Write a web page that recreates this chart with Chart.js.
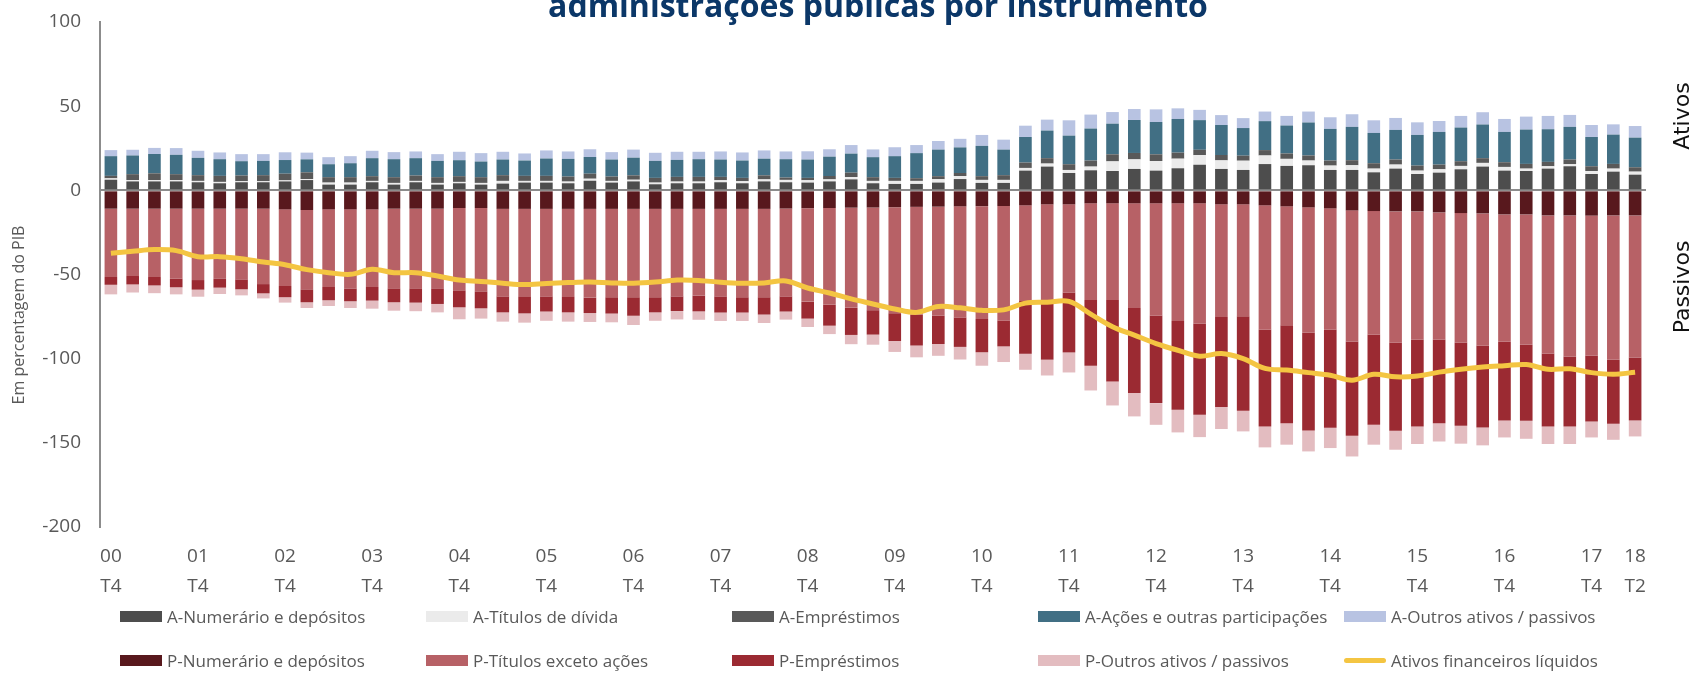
<!DOCTYPE html>
<html>
<head>
<meta charset="utf-8">
<script src="https://cdn.jsdelivr.net/npm/chart.js@4"></script>
<style>
  body { margin: 0; background: #fff; }
  #wrap { position: relative; width: 1696px; height: 673px; }
  #legend { position: absolute; left: 0; top: 0; font-family: "Open Sans", sans-serif; font-size: 17px; color: #595959; }
  .item { position: absolute; display: flex; align-items: center; height: 24px; white-space: nowrap; }
  .box { width: 42px; height: 11px; margin-right: 5px; }
  .lineBox { width: 42px; height: 5px; border-radius: 3px; margin-right: 5px; }
</style>
</head>
<body>
<div id="wrap">
  <canvas id="chart" width="1696" height="673"></canvas>
  <div id="legend"></div>
</div>
<script>
const quarters = [
    '00 T4',
    '01 T1', '01 T2', '01 T3', '01 T4', '02 T1', '02 T2', '02 T3', '02 T4',
    '03 T1', '03 T2', '03 T3', '03 T4', '04 T1', '04 T2', '04 T3', '04 T4',
    '05 T1', '05 T2', '05 T3', '05 T4', '06 T1', '06 T2', '06 T3', '06 T4',
    '07 T1', '07 T2', '07 T3', '07 T4', '08 T1', '08 T2', '08 T3', '08 T4',
    '09 T1', '09 T2', '09 T3', '09 T4', '10 T1', '10 T2', '10 T3', '10 T4',
    '11 T1', '11 T2', '11 T3', '11 T4', '12 T1', '12 T2', '12 T3', '12 T4',
    '13 T1', '13 T2', '13 T3', '13 T4', '14 T1', '14 T2', '14 T3', '14 T4',
    '15 T1', '15 T2', '15 T3', '15 T4', '16 T1', '16 T2', '16 T3', '16 T4',
    '17 T1', '17 T2', '17 T3', '17 T4', '18 T1', '18 T2'
];

// ativos (positivos)
const aNumerario = [6.3, 5.3, 5.3, 5.3, 4.8, 4.2, 4.8, 4.8, 5.3, 6.1, 3.4, 3.4, 4.8, 3.4, 4.8, 3.4, 4.2, 3.4,
    4.0, 4.6, 4.6, 4.2, 5.7, 4.6, 5.3, 3.6, 4.2, 4.2, 4.8, 4.2, 5.3, 4.8, 4.6, 5.3, 6.5, 4.2,
    3.8, 3.8, 4.6, 6.7, 4.4, 4.4, 11.7, 14.1, 10.3, 11.9, 11.5, 12.7, 11.7, 13.1, 15.2, 12.7, 12.1, 15.6,
    14.5, 14.9, 12.1, 12.1, 10.7, 12.9, 9.7, 10.5, 12.5, 14.1, 11.7, 11.5, 12.9, 14.3, 9.7, 11.1, 9.3];
const aTitulos = [0.8, 0.8, 0.8, 0.8, 0.8, 0.8, 0.6, 0.6, 0.6, 0.6, 1.2, 1.2, 0.8, 1.0, 0.8, 1.0, 0.8, 1.0,
    1.6, 1.0, 1.0, 1.0, 1.2, 1.0, 1.0, 1.0, 1.0, 1.0, 1.2, 1.2, 1.2, 1.4, 1.4, 1.2, 1.4, 1.4,
    1.8, 1.8, 2.0, 1.8, 1.8, 1.8, 1.6, 1.8, 1.8, 2.2, 5.7, 5.7, 5.7, 5.7, 5.7, 5.1, 5.5, 5.1,
    4.2, 2.8, 2.6, 2.8, 2.2, 2.4, 2.0, 2.0, 2.0, 2.2, 2.2, 1.4, 1.4, 1.2, 1.8, 1.8, 1.8];
const aEmprestimos = [1.5, 3.5, 4.0, 3.5, 3.4, 3.6, 3.4, 3.6, 4.0, 4.0, 3.2, 3.2, 2.8, 3.4, 3.2, 3.4, 3.4, 3.4,
    3.4, 3.0, 3.0, 3.0, 3.0, 2.6, 2.6, 2.8, 2.8, 2.8, 2.0, 2.0, 2.4, 1.4, 1.4, 2.0, 2.6, 2.2,
    1.8, 1.6, 1.8, 1.8, 2.2, 2.8, 3.2, 3.2, 3.4, 3.6, 4.2, 3.8, 4.0, 3.6, 3.2, 3.2, 3.0, 3.2,
    3.2, 3.0, 3.0, 3.0, 3.2, 3.0, 3.0, 2.8, 2.8, 2.8, 2.8, 2.8, 2.6, 2.8, 2.8, 2.8, 2.6];
const aAcoes = [11.7, 11.1, 11.5, 11.5, 10.3, 9.9, 8.5, 8.5, 8.1, 7.7, 7.7, 8.3, 10.7, 10.7, 10.3, 9.7, 9.5, 9.3,
    9.3, 9.1, 10.3, 10.5, 9.9, 10.1, 10.5, 10.1, 10.1, 10.5, 10.3, 10.3, 9.9, 10.9, 10.9, 11.5, 11.3, 11.9,
    12.9, 14.9, 15.8, 15.2, 18.0, 15.2, 15.2, 16.4, 17.0, 19.0, 18.2, 19.6, 19.2, 20.0, 17.6, 17.8, 16.4, 17.2,
    16.6, 19.6, 18.8, 19.8, 18.0, 17.6, 18.2, 19.4, 20.0, 20.0, 18.0, 20.4, 19.4, 19.4, 17.4, 17.4, 17.6];
const aOutros = [3.6, 3.4, 3.6, 4.0, 4.2, 4.0, 4.2, 4.0, 4.6, 4.0, 4.2, 4.2, 4.4, 4.2, 4.0, 4.0, 5.0, 5.0,
    4.6, 4.2, 4.8, 4.4, 4.6, 4.4, 4.8, 4.8, 4.8, 4.4, 4.8, 4.8, 4.9, 4.6, 4.9, 4.4, 5.1, 4.6,
    5.3, 4.8, 5.1, 5.1, 6.5, 5.9, 6.7, 6.5, 9.1, 8.3, 6.9, 6.5, 7.5, 6.3, 6.1, 5.9, 5.9, 5.7,
    5.7, 6.5, 6.9, 7.5, 7.5, 7.1, 7.5, 6.5, 6.9, 7.3, 7.7, 7.7, 7.9, 7.1, 7.1, 6.1, 6.9];

// passivos (negativos)
const pNumerario = [-10.9, -10.9, -10.9, -10.9, -10.9, -10.9, -10.9, -10.9, -11.3, -11.7, -11.3, -11.3, -11.3, -10.9, -10.9, -10.9, -10.5, -10.5,
    -11, -11, -11, -11, -11, -11, -11, -11, -11, -11, -11, -11, -11, -10.8, -10.6, -10.5, -10.3, -10.2,
    -10, -9.8, -9.7, -9.5, -9.4, -9.3, -8.9, -8.3, -8.3, -7.7, -7.7, -7.7, -7.7, -7.7, -7.7, -8.3, -8.3, -8.9,
    -9.5, -10.1, -10.7, -11.9, -12.3, -12.5, -12.5, -13.1, -13.5, -13.7, -14.3, -14.3, -14.9, -14.9, -15, -14.9, -14.9];
const pTitulos = [-40.6, -40.0, -40.6, -41.6, -42.4, -41.4, -42.0, -44.8, -45.5, -47.1, -46.1, -47.1, -46.1, -47.3, -47.3, -47.3, -48.9, -49.5,
    -52.0, -52.3, -52.0, -52.3, -52.7, -52.5, -52.5, -52.5, -52.0, -51.5, -52.0, -52.5, -52.5, -52.2, -55.5, -57.5, -59.5, -61.0,
    -63.0, -64.0, -64.8, -66.0, -67.0, -68.0, -56.8, -56.8, -52.5, -57.4, -57.4, -62.2, -66.7, -69.9, -71.4, -67.0, -66.5, -73.8,
    -70.7, -74.5, -72.0, -77.9, -73.3, -77.9, -76.1, -75.5, -76.9, -78.5, -75.7, -77.4, -82.0, -83.8, -83.1, -85.8, -84.4];
const pEmprestimos = [-4.6, -5.0, -5.0, -5.1, -5.7, -5.5, -5.9, -5.5, -6.7, -7.7, -7.9, -7.5, -8.1, -8.3, -8.5, -9.3, -10.1, -10.1,
    -9.5, -9.8, -9.0, -9.2, -9.2, -9.7, -11.0, -9.0, -8.7, -9.4, -9.6, -9.1, -10.3, -9.0, -10.1, -12.4, -16.1, -14.5,
    -16.5, -18.4, -16.8, -17.5, -19.8, -15.4, -31.4, -35.5, -35.5, -39.1, -48.4, -50.5, -52.0, -52.7, -54.2, -53.4, -56.1, -57.6,
    -58.1, -58.0, -58.3, -56.0, -53.7, -52.4, -51.7, -49.7, -49.5, -48.7, -46.7, -45.2, -43.4, -41.6, -39.2, -38.0, -37.4];
const pOutros = [-5.7, -4.8, -4.6, -4.2, -4.2, -3.8, -3.6, -3.0, -3.2, -3.4, -3.4, -4.0, -4.8, -5.0, -5.1, -5.0, -7.1, -6.1,
    -5.5, -5.5, -5.5, -5.5, -5.3, -5.2, -5.5, -5.0, -5.0, -5.0, -5.0, -5.0, -5.0, -4.8, -5.0, -5.0, -5.5, -6.0,
    -6.5, -7.0, -7.0, -7.5, -8.0, -9.3, -9.5, -9.4, -11.9, -14.7, -14.3, -13.9, -12.9, -13.5, -13.3, -13.1, -12.3, -12.4,
    -12.8, -12.5, -12.1, -12.3, -11.8, -11.3, -10.4, -10.9, -10.6, -10.6, -10.1, -10.7, -10.4, -10.4, -9.5, -9.5, -9.5];

const ativosLiquidos = [-37.4, -36.2, -35.2, -35.8, -39.4, -39.4, -40.6, -42.6, -44.2, -47.1, -48.9, -49.9, -46.9, -48.9, -48.9, -50.9, -53.3, -54.1,
    -55.2, -56.0, -55.3, -54.8, -54.5, -55.0, -55.2, -54.5, -53.3, -53.5, -54.6, -55.2, -55.0, -53.8, -58.0, -61.0, -64.5, -67.5,
    -70.5, -72.5, -69.0, -69.8, -71.3, -71.0, -67.0, -66.5, -66.0, -73.5, -81.0, -86.0, -91.0, -95.0, -98.5, -97.0, -100.0, -105.8,
    -106.8, -108.3, -109.8, -112.8, -109.3, -110.8, -110.3, -108.0, -106.3, -105.0, -104.2, -103.5, -106.3, -106.0, -108.3, -109.3, -108.1];

const yTicks = [100, 50, 0, -50, -100, -150, -200];

const textColor = '#595959';
const axisColor = '#8c8c8c';

function barSet(label, data, color) {
    return {
        type: 'bar',
        label: label,
        data: data,
        backgroundColor: color,
        borderWidth: 0,
        barPercentage: 0.58,
        categoryPercentage: 1,
        order: 1
    };
}

const datasets = [
    barSet('A-Numerário e depósitos', aNumerario, '#4d4d4d'),
    barSet('A-Títulos de dívida', aTitulos, '#ebebeb'),
    barSet('A-Empréstimos', aEmprestimos, '#595959'),
    barSet('A-Ações e outras participações', aAcoes, '#416f84'),
    barSet('A-Outros ativos / passivos', aOutros, '#b8c3e2'),
    barSet('P-Numerário e depósitos', pNumerario, '#58181d'),
    barSet('P-Títulos exceto ações', pTitulos, '#b76166'),
    barSet('P-Empréstimos', pEmprestimos, '#9b2a32'),
    barSet('P-Outros ativos / passivos', pOutros, '#e3bcc0'),
    {
        type: 'line',
        label: 'Ativos financeiros líquidos',
        data: ativosLiquidos,
        borderColor: '#f4c542',
        backgroundColor: '#f4c542',
        borderWidth: 5,
        pointRadius: 0,
        tension: 0.35,
        fill: false,
        stack: 'liquidos',
        order: 0
    }
];

// titulo, titulo do eixo e rotulos Ativos / Passivos
const annotations = {
    id: 'annotations',
    afterDraw(chart) {
        const c = chart.ctx;
        c.save();
        c.fillStyle = '#0b3768';
        c.font = 'bold 32px "Open Sans"';
        c.textAlign = 'center';
        c.textBaseline = 'alphabetic';
        c.fillText('administrações públicas por instrumento', 878, 17);

        c.textBaseline = 'middle';
        c.fillStyle = textColor;
        c.font = '16px "Open Sans"';
        c.translate(19.5, 315);
        c.rotate(-Math.PI / 2);
        c.fillText('Em percentagem do PIB', 0, 0);
        c.restore();

        c.save();
        c.fillStyle = '#111';
        c.font = '22px "DejaVu Sans"';
        c.textAlign = 'center';
        c.textBaseline = 'middle';
        c.translate(1683, 116);
        c.rotate(-Math.PI / 2);
        c.fillText('Ativos', 0, 0);
        c.restore();

        c.save();
        c.fillStyle = '#111';
        c.font = '22px "DejaVu Sans"';
        c.textAlign = 'center';
        c.textBaseline = 'middle';
        c.translate(1683, 287);
        c.rotate(-Math.PI / 2);
        c.fillText('Passivos', 0, 0);
        c.restore();
    }
};

const ctx = document.getElementById('chart').getContext('2d');
const chart = new Chart(ctx, {
    type: 'bar',
    data: {
        labels: quarters,
        datasets: datasets
    },
    options: {
        responsive: false,
        animation: false,
        layout: { padding: { top: 22, right: 50, bottom: 0, left: 0 } },
        plugins: {
            legend: { display: false },
            tooltip: { enabled: false }
        },
        scales: {
            x: {
                stacked: true,
                grid: { display: false },
                border: { display: false },
                ticks: {
                    autoSkip: false,
                    maxRotation: 0,
                    padding: 7,
                    color: textColor,
                    font: { family: 'Open Sans', size: 19, lineHeight: 1.58 },
                    callback: function (value, index) {
                        const parts = quarters[index].split(' ');
                        if (parts[1] === 'T4' || index === quarters.length - 1) {
                            return [parts[0], parts[1]];
                        }
                        return '';
                    }
                },
                afterFit: function (scale) {
                    scale.height = 146;
                    scale.paddingLeft = 0;
                    scale.paddingRight = 0;
                }
            },
            y: {
                stacked: true,
                min: -200,
                max: 100,
                z: 1,
                ticks: {
                    stepSize: 50,
                    padding: 19,
                    color: textColor,
                    font: { family: 'Open Sans', size: 19 },
                    callback: v => yTicks.includes(v) ? v : ''
                },
                grid: {
                    drawTicks: false,
                    color: c => c.tick && c.tick.value === 0 ? axisColor : 'rgba(0,0,0,0)',
                    lineWidth: 2
                },
                border: { display: true, color: axisColor, width: 2 },
                afterFit: function (scale) {
                    scale.width = 100;
                    scale.paddingTop = 0;
                    scale.paddingBottom = 0;
                }
            }
        }
    },
    plugins: [annotations]
});

// legenda em grelha, 5 colunas x 2 linhas
const legend = document.getElementById('legend');
const colX = [120, 426, 732, 1038, 1344];
const rowY = [616, 660];
datasets.forEach((ds, i) => {
    const item = document.createElement('div');
    item.className = 'item';
    item.style.left = colX[i % 5] + 'px';
    item.style.top = (rowY[Math.floor(i / 5)] - 12) + 'px';
    const swatch = document.createElement('span');
    swatch.className = ds.type === 'line' ? 'lineBox' : 'box';
    swatch.style.background = ds.type === 'line' ? ds.borderColor : ds.backgroundColor;
    item.appendChild(swatch);
    item.appendChild(document.createTextNode(ds.label));
    legend.appendChild(item);
});
</script>
</body>
</html>
